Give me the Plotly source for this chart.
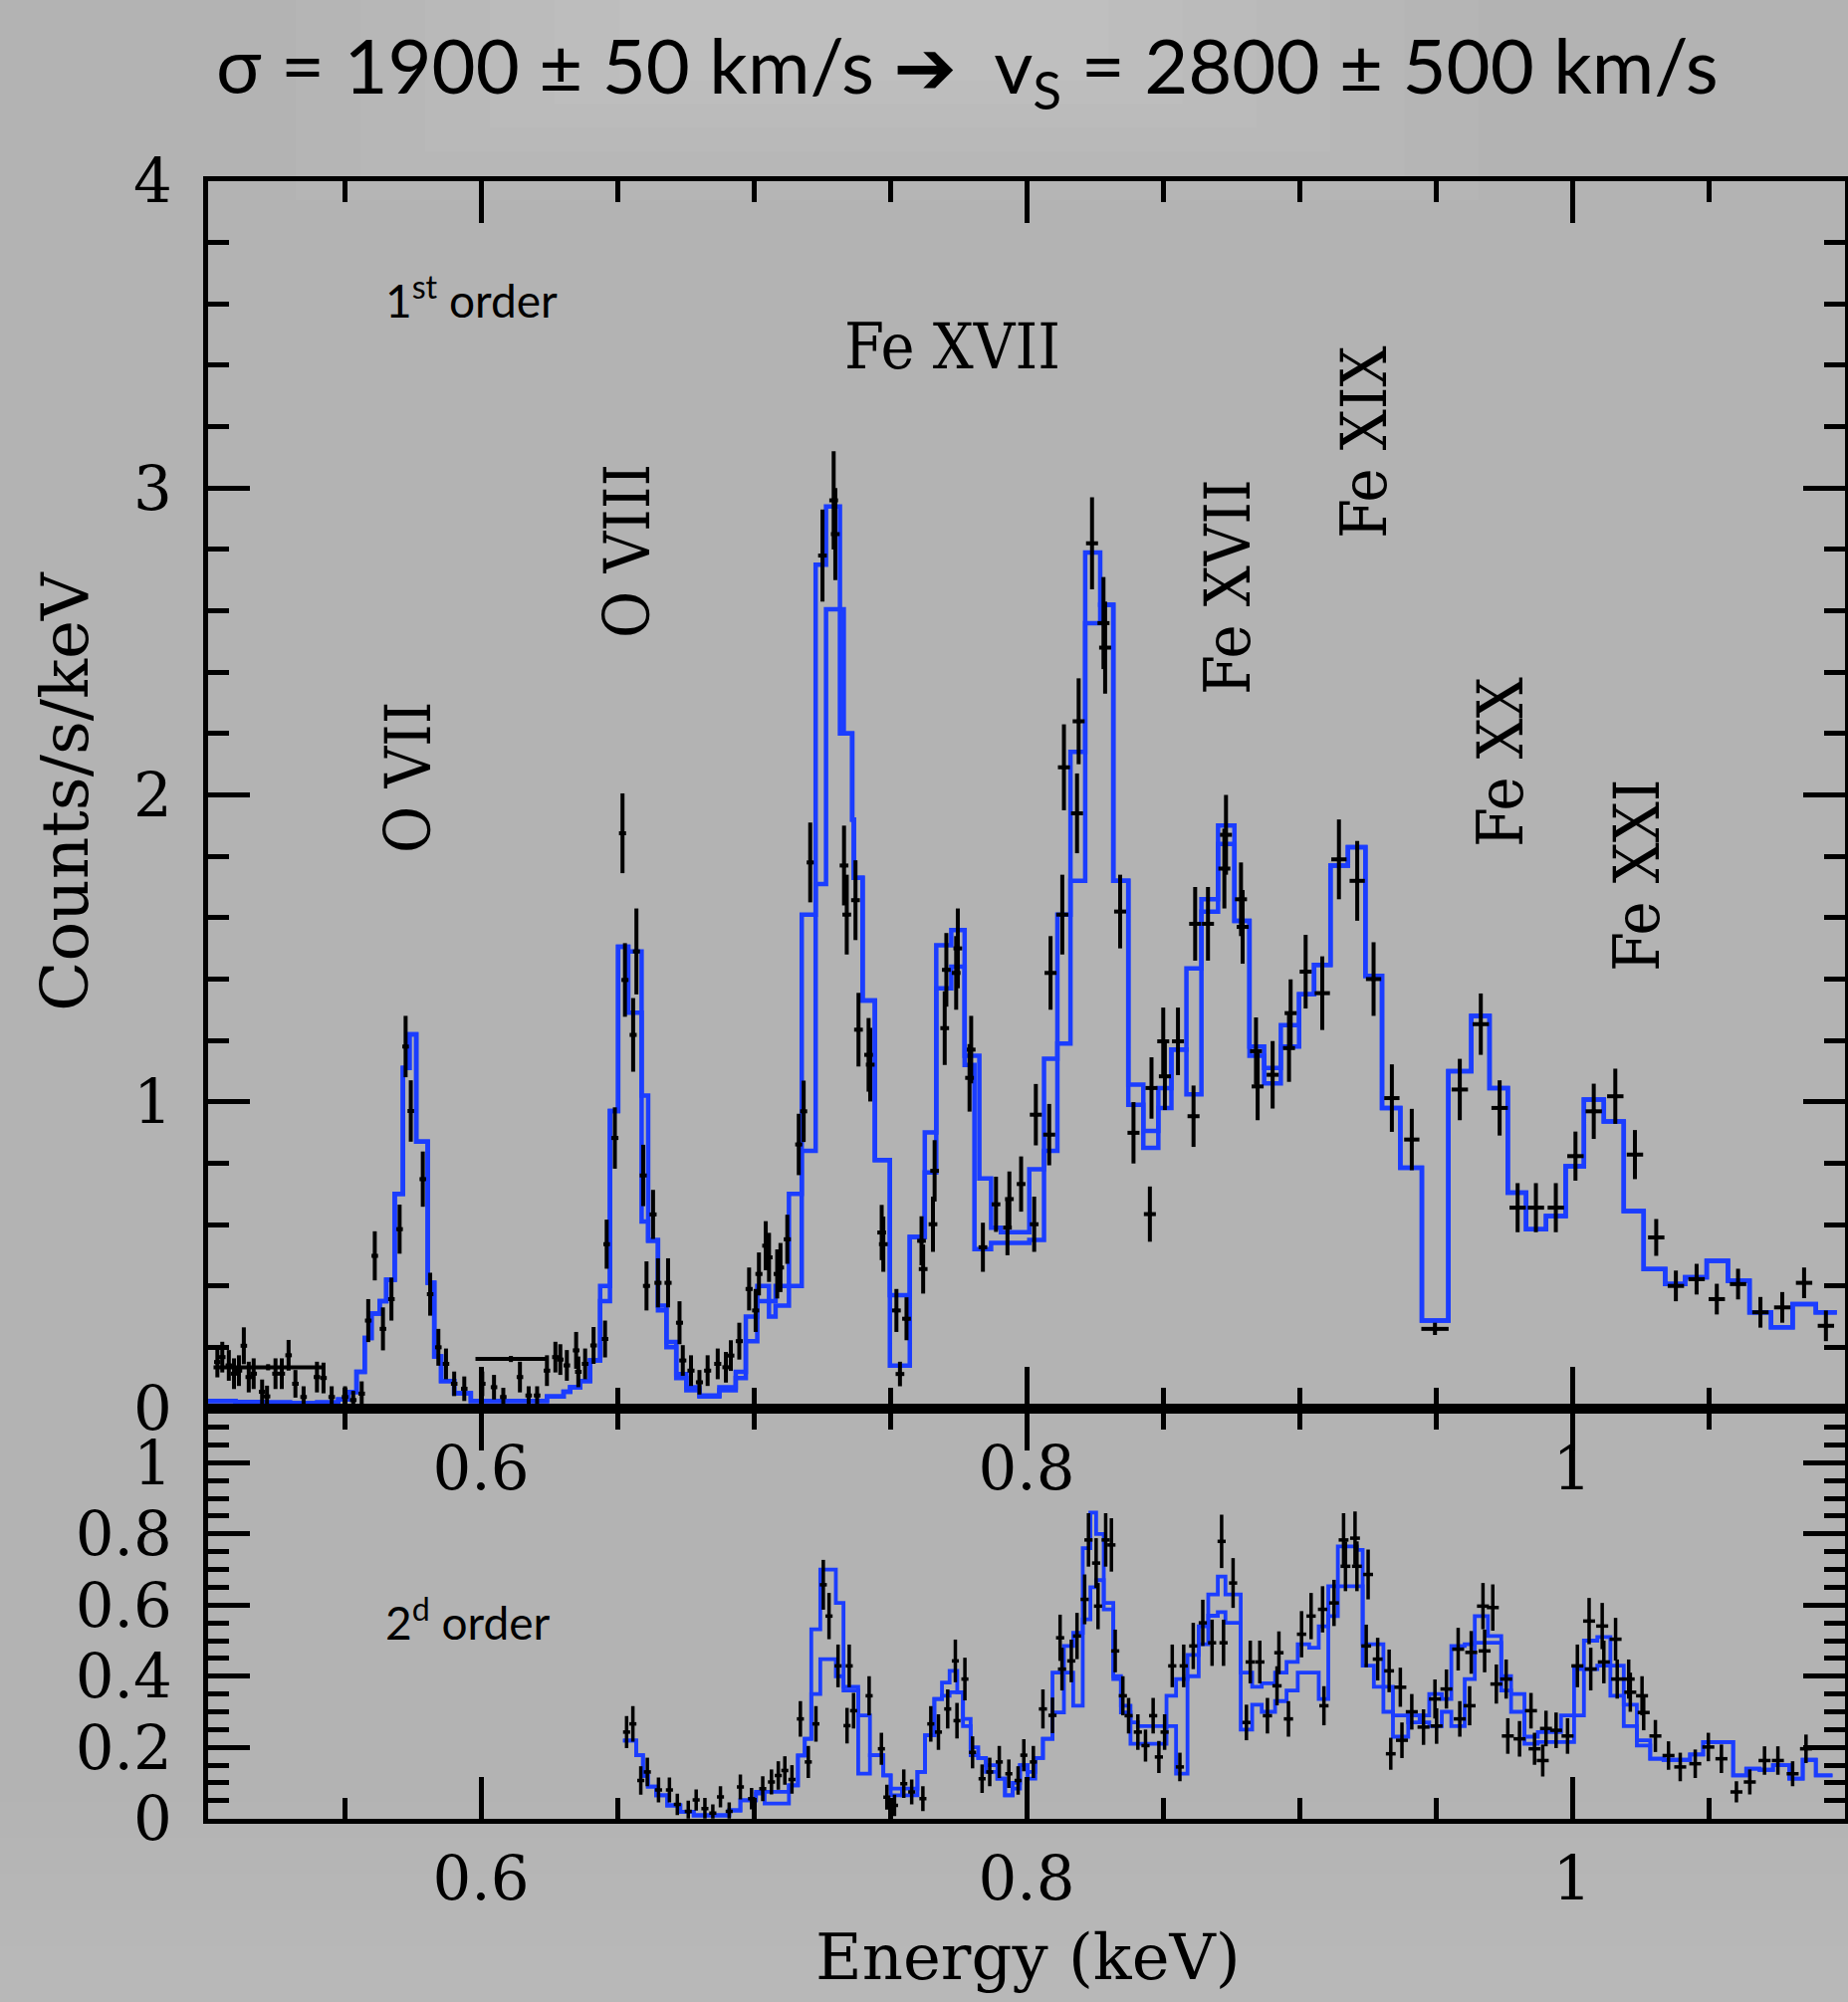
import plotly.graph_objects as go

# ---------------- 1st order (upper panel) : model step histograms ----------------
UP_EDGES = [0.5000, 0.5100, 0.5200, 0.5300, 0.5400, 0.5477, 0.5514, 0.5544, 0.5574, 0.5599,
            0.5629, 0.5653, 0.5684, 0.5714, 0.5738, 0.5763, 0.5805, 0.5829, 0.5854, 0.5902,
            0.5963, 0.6242, 0.6303, 0.6327, 0.6364, 0.6400, 0.6437, 0.6473, 0.6503, 0.6540,
            0.6589, 0.6613, 0.6649, 0.6680, 0.6716, 0.6753, 0.6801, 0.6874, 0.6934, 0.6971,
            0.7013, 0.7056, 0.7080, 0.7129, 0.7176, 0.7227, 0.7265, 0.7316, 0.7330, 0.7361,
            0.7367, 0.7399, 0.7444, 0.7499, 0.7572, 0.7627, 0.7669, 0.7724, 0.7773, 0.7809,
            0.7827, 0.7870, 0.7906, 0.8010, 0.8064, 0.8113, 0.8161, 0.8215, 0.8270, 0.8318,
            0.8373, 0.8428, 0.8483, 0.8531, 0.8586, 0.8641, 0.8702, 0.8762, 0.8817, 0.8871,
            0.8932, 0.8999, 0.9054, 0.9114, 0.9178, 0.9242, 0.9303, 0.9370, 0.9449, 0.9546,
            0.9630, 0.9697, 0.9764, 0.9831, 0.9904, 0.9976, 1.0043, 1.0116, 1.0189, 1.0262,
            1.0341, 1.0414, 1.0493, 1.0571, 1.0650, 1.0729, 1.0808, 1.0893, 1.0970]

UP_MODEL_A = [0.025, 0.022, 0.020, 0.018, 0.020, 0.030, 0.054, 0.120, 0.230, 0.310,
              0.350, 0.420, 0.700, 1.110, 1.220, 0.870, 0.410, 0.170, 0.090, 0.050,
              0.025, 0.040, 0.055, 0.070, 0.090, 0.157, 0.400, 0.970, 1.505, 1.490,
              1.020, 0.547, 0.336, 0.217, 0.113, 0.070, 0.043, 0.070, 0.120, 0.300,
              0.400, 0.350, 0.400, 0.700, 1.610, 2.750, 2.940, 2.200, 2.200, 1.920,
              1.730, 1.330, 0.810, 0.370, 0.560, 0.900, 1.510, 1.560, 1.150, 1.150,
              0.750, 0.590, 0.575, 0.780, 1.140, 1.610, 2.140, 2.790, 2.620, 1.720,
              1.056, 0.905, 1.045, 1.170, 1.435, 1.660, 1.900, 1.590, 1.180, 1.110,
              1.250, 1.350, 1.446, 1.770, 1.830, 1.410, 0.980, 0.785, 0.287, 1.100,
              1.280, 1.045, 0.704, 0.585, 0.628, 0.790, 1.007, 0.936, 0.644, 0.455,
              0.406, 0.428, 0.482, 0.417, 0.314, 0.265, 0.341, 0.314]

UP_MODEL_B = [0.025, 0.022, 0.020, 0.018, 0.020, 0.030, 0.054, 0.120, 0.230, 0.310,
              0.350, 0.420, 0.700, 1.110, 1.220, 0.870, 0.410, 0.170, 0.090, 0.050,
              0.025, 0.040, 0.055, 0.070, 0.090, 0.157, 0.350, 0.970, 1.505, 1.290,
              0.610, 0.550, 0.320, 0.200, 0.100, 0.060, 0.040, 0.060, 0.100, 0.220,
              0.350, 0.300, 0.336, 0.400, 0.840, 1.710, 2.605, 2.605, 2.200, 1.920,
              1.730, 1.330, 0.810, 0.140, 0.560, 0.770, 1.370, 1.440, 1.120, 0.520,
              0.520, 0.540, 0.540, 0.550, 0.840, 1.190, 1.720, 2.560, 2.620, 1.720,
              0.990, 0.850, 0.980, 1.170, 1.024, 1.620, 1.840, 1.590, 1.150, 1.060,
              1.180, 1.350, 1.446, 1.770, 1.830, 1.410, 0.980, 0.785, 0.287, 1.100,
              1.280, 1.045, 0.704, 0.585, 0.628, 0.790, 1.007, 0.936, 0.644, 0.455,
              0.406, 0.428, 0.482, 0.417, 0.314, 0.265, 0.341, 0.314]

# ---------------- 1st order data points ----------------
UP_E = [0.5034, 0.5052, 0.5076, 0.5095, 0.5113, 0.5131, 0.5149, 0.5167, 0.5198, 0.5216,
        0.5247, 0.5270, 0.5295, 0.5320, 0.5350, 0.5399, 0.5423, 0.5453, 0.5502, 0.5532,
        0.5563, 0.5587, 0.5611, 0.5641, 0.5672, 0.5702, 0.5724, 0.5743, 0.5787, 0.5814,
        0.5844, 0.5872, 0.5902, 0.5939, 0.6005, 0.6048, 0.6082, 0.6143, 0.6175, 0.6206,
        0.6242, 0.6273, 0.6291, 0.6315, 0.6349, 0.6357, 0.6382, 0.6413, 0.6455, 0.6461,
        0.6491, 0.6519, 0.6528, 0.6558, 0.6570, 0.6595, 0.6607, 0.6631, 0.6649, 0.6686,
        0.6728, 0.6740, 0.6770, 0.6801, 0.6831, 0.6868, 0.6898, 0.6916, 0.6947, 0.6983,
        0.7007, 0.7019, 0.7044, 0.7056, 0.7086, 0.7098, 0.7123, 0.7165, 0.7183, 0.7207,
        0.7252, 0.7293, 0.7299, 0.7331, 0.7341, 0.7373, 0.7384, 0.7421, 0.7427, 0.7469,
        0.7475, 0.7523, 0.7536, 0.7560, 0.7615, 0.7621, 0.7657, 0.7663, 0.7700, 0.7706,
        0.7742, 0.7748, 0.7791, 0.7797, 0.7840, 0.7888, 0.7930, 0.7937, 0.7980, 0.8028,
        0.8034, 0.8083, 0.8088, 0.8131, 0.8137, 0.8185, 0.8191, 0.8240, 0.8282, 0.8288,
        0.8343, 0.8392, 0.8452, 0.8458, 0.8501, 0.8507, 0.8555, 0.8612, 0.8618, 0.8665,
        0.8725, 0.8731, 0.8786, 0.8792, 0.8841, 0.8847, 0.8902, 0.8962, 0.8968, 0.9023,
        0.9084, 0.9145, 0.9212, 0.9272, 0.9339, 0.9412, 0.9497, 0.9588, 0.9665, 0.9734,
        0.9800, 0.9867, 0.9940, 1.0012, 1.0079, 1.0158, 1.0230, 1.0308, 1.0380, 1.0456,
        1.0530, 1.0608, 1.0690, 1.0770, 1.0850, 1.0930, 0.5220, 0.6110]

UP_Y = [0.152, 0.168, 0.141, 0.114, 0.124, 0.205, 0.103, 0.114, 0.055, 0.040,
        0.114, 0.114, 0.174, 0.081, 0.038, 0.103, 0.100, 0.038, 0.038, 0.028,
        0.049, 0.287, 0.498, 0.260, 0.357, 0.585, 1.180, 0.970, 0.748, 0.373,
        0.200, 0.146, 0.081, 0.065, 0.081, 0.070, 0.038, 0.103, 0.043, 0.043,
        0.124, 0.168, 0.160, 0.141, 0.190, 0.120, 0.146, 0.206, 0.227, 0.536,
        0.882, 1.875, 1.397, 1.218, 1.490, 0.760, 0.400, 0.633, 0.410, 0.410,
        0.280, 0.157, 0.124, 0.086, 0.124, 0.146, 0.135, 0.173, 0.220, 0.390,
        0.320, 0.439, 0.531, 0.493, 0.439, 0.460, 0.552, 0.861, 0.969, 1.780,
        2.780, 2.960, 2.850, 1.770, 1.610, 1.657, 1.235, 1.153, 1.121, 0.574,
        0.536, 0.320, 0.113, 0.293, 0.547, 0.455, 0.601, 0.775, 1.240, 1.430,
        1.420, 1.500, 1.078, 1.170, 0.526, 0.666, 0.590, 0.683, 0.732, 0.601,
        0.958, 0.893, 1.420, 1.610, 2.090, 1.940, 2.240, 2.820, 2.560, 2.480,
        1.620, 0.899, 0.634, 1.045, 1.197, 1.083, 1.197, 0.953, 1.580, 1.580,
        1.760, 1.870, 1.660, 1.570, 1.165, 1.050, 1.088, 1.175, 1.289, 1.424,
        1.354, 1.790, 1.720, 1.400, 1.012, 0.877, 0.260, 1.040, 1.253, 0.980,
        0.655, 0.655, 0.655, 0.823, 0.969, 1.018, 0.828, 0.558, 0.400, 0.422,
        0.357, 0.406, 0.314, 0.330, 0.410, 0.270, 0.135, 0.162]

UP_YERR = [0.05, 0.05, 0.05, 0.05, 0.05, 0.06, 0.05, 0.05, 0.04, 0.035,
           0.05, 0.05, 0.05, 0.045, 0.035, 0.05, 0.05, 0.035, 0.035, 0.03,
           0.04, 0.07, 0.08, 0.07, 0.07, 0.08, 0.10, 0.10, 0.09, 0.07,
           0.06, 0.05, 0.04, 0.04, 0.04, 0.04, 0.03, 0.05, 0.03, 0.03,
           0.05, 0.05, 0.05, 0.05, 0.06, 0.05, 0.05, 0.06, 0.06, 0.08,
           0.10, 0.13, 0.12, 0.12, 0.14, 0.10, 0.08, 0.08, 0.08, 0.08,
           0.07, 0.05, 0.05, 0.04, 0.05, 0.05, 0.05, 0.05, 0.06, 0.07,
           0.07, 0.07, 0.08, 0.08, 0.08, 0.08, 0.08, 0.10, 0.10, 0.13,
           0.15, 0.16, 0.15, 0.13, 0.13, 0.13, 0.12, 0.12, 0.12, 0.09,
           0.09, 0.07, 0.04, 0.07, 0.08, 0.08, 0.09, 0.10, 0.12, 0.12,
           0.12, 0.13, 0.11, 0.11, 0.08, 0.09, 0.09, 0.09, 0.09, 0.09,
           0.10, 0.10, 0.12, 0.13, 0.14, 0.13, 0.14, 0.15, 0.15, 0.15,
           0.12, 0.10, 0.09, 0.10, 0.11, 0.11, 0.11, 0.10, 0.12, 0.12,
           0.13, 0.13, 0.12, 0.12, 0.11, 0.11, 0.11, 0.11, 0.11, 0.12,
           0.12, 0.13, 0.13, 0.12, 0.11, 0.10, 0.02, 0.10, 0.10, 0.09,
           0.08, 0.08, 0.08, 0.08, 0.09, 0.09, 0.08, 0.06, 0.05, 0.05,
           0.05, 0.05, 0.05, 0.05, 0.05, 0.05, 0.01, 0.01]

UP_XERR = [0.0012, 0.0012, 0.0012, 0.0012, 0.0012, 0.0012, 0.0012, 0.0012, 0.0012, 0.0012,
           0.0012, 0.0012, 0.0012, 0.0012, 0.0012, 0.0012, 0.0012, 0.0012, 0.0012, 0.0012,
           0.0012, 0.0012, 0.0012, 0.0012, 0.0012, 0.0012, 0.0012, 0.0012, 0.0012, 0.0012,
           0.0012, 0.0012, 0.0012, 0.0012, 0.0012, 0.0012, 0.0012, 0.0012, 0.0012, 0.0012,
           0.0012, 0.0012, 0.0012, 0.0012, 0.0012, 0.0012, 0.0012, 0.0012, 0.0012, 0.0012,
           0.0013, 0.0013, 0.0013, 0.0013, 0.0013, 0.0013, 0.0013, 0.0013, 0.0013, 0.0013,
           0.0013, 0.0013, 0.0013, 0.0013, 0.0013, 0.0013, 0.0013, 0.0013, 0.0013, 0.0013,
           0.0013, 0.0013, 0.0013, 0.0013, 0.0013, 0.0013, 0.0013, 0.0013, 0.0013, 0.0013,
           0.0016, 0.0016, 0.0016, 0.0016, 0.0016, 0.0016, 0.0016, 0.0016, 0.0016, 0.0016,
           0.0016, 0.0016, 0.0016, 0.0016, 0.0016, 0.0016, 0.0016, 0.0016, 0.0016, 0.0016,
           0.0016, 0.0016, 0.0016, 0.0016, 0.0016, 0.0016, 0.0016, 0.0016, 0.0016, 0.0016,
           0.0022, 0.0022, 0.0022, 0.0022, 0.0022, 0.0022, 0.0022, 0.0022, 0.0022, 0.0022,
           0.0022, 0.0022, 0.0022, 0.0022, 0.0022, 0.0022, 0.0022, 0.0022, 0.0022, 0.0022,
           0.0022, 0.0022, 0.0022, 0.0022, 0.0022, 0.0022, 0.0022, 0.0022, 0.0022, 0.0022,
           0.0028, 0.0028, 0.0028, 0.0028, 0.0028, 0.0028, 0.0050, 0.0030, 0.0030, 0.0030,
           0.0030, 0.0030, 0.0030, 0.0030, 0.0030, 0.0030, 0.0030, 0.0030, 0.0030, 0.0030,
           0.0030, 0.0030, 0.0030, 0.0030, 0.0030, 0.0030, 0.0200, 0.0130]

# ---------------- 2nd order (lower panel) : model step histograms ----------------
LO_EDGES = [0.6521, 0.6569, 0.6594, 0.6612, 0.6642, 0.6683, 0.6731, 0.6780, 0.6910, 0.6951,
            0.7008, 0.7040, 0.7129, 0.7162, 0.7187, 0.7211, 0.7244, 0.7301, 0.7329, 0.7383,
            0.7426, 0.7475, 0.7502, 0.7544, 0.7600, 0.7628, 0.7662, 0.7690, 0.7718, 0.7746,
            0.7767, 0.7795, 0.7823, 0.7851, 0.7893, 0.7921, 0.7949, 0.7976, 0.8004, 0.8032,
            0.8060, 0.8095, 0.8137, 0.8171, 0.8206, 0.8234, 0.8255, 0.8283, 0.8318, 0.8346,
            0.8381, 0.8408, 0.8464, 0.8513, 0.8548, 0.8590, 0.8631, 0.8666, 0.8701, 0.8729,
            0.8785, 0.8827, 0.8862, 0.8911, 0.8953, 0.8994, 0.9036, 0.9071, 0.9106, 0.9141,
            0.9176, 0.9211, 0.9232, 0.9273, 0.9308, 0.9343, 0.9399, 0.9441, 0.9476, 0.9522,
            0.9557, 0.9606, 0.9643, 0.9691, 0.9740, 0.9776, 0.9825, 0.9874, 0.9959, 1.0007,
            1.0043, 1.0092, 1.0140, 1.0189, 1.0237, 1.0286, 1.0335, 1.0432, 1.0480, 1.0590,
            1.0638, 1.0687, 1.0736, 1.0796, 1.0845, 1.0893, 1.0954]

LO_MODEL_A = [0.219, 0.178, 0.120, 0.090, 0.065, 0.037, 0.019, 0.009, 0.023, 0.051,
              0.075, 0.075, 0.093, 0.177, 0.224, 0.532, 0.700, 0.606, 0.360, 0.290,
              0.178, 0.121, 0.065, 0.084, 0.131, 0.234, 0.336, 0.382, 0.415, 0.355,
              0.280, 0.200, 0.170, 0.150, 0.112, 0.065, 0.084, 0.150, 0.131, 0.170,
              0.224, 0.410, 0.485, 0.522, 0.760, 0.860, 0.800, 0.606, 0.400, 0.317,
              0.270, 0.260, 0.260, 0.345, 0.392, 0.460, 0.540, 0.630, 0.680, 0.630,
              0.410, 0.370, 0.380, 0.410, 0.440, 0.490, 0.480, 0.540, 0.653, 0.765,
              0.765, 0.755, 0.490, 0.490, 0.370, 0.290, 0.270, 0.290, 0.350, 0.336,
              0.485, 0.490, 0.569, 0.513, 0.400, 0.350, 0.230, 0.243, 0.290, 0.420,
              0.500, 0.510, 0.430, 0.320, 0.205, 0.168, 0.165, 0.180, 0.215, 0.121,
              0.140, 0.137, 0.150, 0.112, 0.165, 0.121]

LO_MODEL_B = [0.219, 0.178, 0.120, 0.090, 0.065, 0.037, 0.019, 0.009, 0.023, 0.051,
              0.070, 0.042, 0.093, 0.177, 0.224, 0.350, 0.448, 0.400, 0.370, 0.126,
              0.178, 0.121, 0.084, 0.065, 0.131, 0.234, 0.336, 0.345, 0.355, 0.355,
              0.260, 0.178, 0.170, 0.131, 0.112, 0.065, 0.100, 0.150, 0.112, 0.170,
              0.224, 0.298, 0.410, 0.317, 0.560, 0.650, 0.670, 0.588, 0.392, 0.298,
              0.210, 0.210, 0.210, 0.260, 0.126, 0.400, 0.490, 0.570, 0.580, 0.550,
              0.250, 0.320, 0.300, 0.330, 0.360, 0.410, 0.410, 0.336, 0.569, 0.653,
              0.653, 0.653, 0.430, 0.370, 0.300, 0.230, 0.290, 0.270, 0.260, 0.300,
              0.260, 0.392, 0.494, 0.494, 0.360, 0.300, 0.210, 0.215, 0.215, 0.290,
              0.420, 0.430, 0.345, 0.260, 0.220, 0.168, 0.165, 0.180, 0.215, 0.121,
              0.140, 0.137, 0.150, 0.112, 0.165, 0.121]

# ---------------- 2nd order data points ----------------
LO_E = [0.6534, 0.6557, 0.6586, 0.6610, 0.6651, 0.6691, 0.6720, 0.6760, 0.6789, 0.6821,
        0.6850, 0.6878, 0.6910, 0.6951, 0.6992, 0.7033, 0.7065, 0.7090, 0.7114, 0.7140,
        0.7171, 0.7200, 0.7228, 0.7255, 0.7276, 0.7309, 0.7342, 0.7350, 0.7366, 0.7423,
        0.7468, 0.7488, 0.7516, 0.7550, 0.7579, 0.7620, 0.7649, 0.7677, 0.7711, 0.7739,
        0.7745, 0.7774, 0.7802, 0.7837, 0.7865, 0.7900, 0.7935, 0.7969, 0.7990, 0.8025,
        0.8060, 0.8095, 0.8123, 0.8130, 0.8164, 0.8185, 0.8213, 0.8227, 0.8255, 0.8262,
        0.8290, 0.8311, 0.8325, 0.8353, 0.8374, 0.8408, 0.8436, 0.8464, 0.8485, 0.8506,
        0.8534, 0.8562, 0.8576, 0.8611, 0.8646, 0.8680, 0.8715, 0.8722, 0.8757, 0.8806,
        0.8820, 0.8855, 0.8883, 0.8918, 0.8925, 0.8960, 0.9008, 0.9043, 0.9085, 0.9090,
        0.9127, 0.9162, 0.9169, 0.9204, 0.9211, 0.9252, 0.9245, 0.9287, 0.9329, 0.9335,
        0.9370, 0.9376, 0.9412, 0.9455, 0.9497, 0.9503, 0.9539, 0.9582, 0.9588, 0.9630,
        0.9624, 0.9673, 0.9709, 0.9679, 0.9722, 0.9758, 0.9764, 0.9807, 0.9849, 0.9862,
        0.9892, 0.9904, 0.9941, 0.9983, 1.0019, 1.0062, 1.0068, 1.0110, 1.0116, 1.0159,
        1.0165, 1.0207, 1.0213, 1.0256, 1.0262, 1.0305, 1.0353, 1.0396, 1.0451, 1.0499,
        1.0547, 1.0602, 1.0651, 1.0705, 1.0754, 1.0808, 1.0857]

LO_Y = [0.243, 0.266, 0.107, 0.131, 0.080, 0.080, 0.040, 0.020, 0.052, 0.028,
        0.015, 0.061, 0.020, 0.089, 0.056, 0.084, 0.103, 0.121, 0.135, 0.110,
        0.280, 0.159, 0.266, 0.657, 0.569, 0.429, 0.261, 0.429, 0.303, 0.345,
        0.196, 0.060, 0.037, 0.098, 0.075, 0.056, 0.266, 0.243, 0.308, 0.443,
        0.275, 0.392, 0.186, 0.112, 0.131, 0.159, 0.126, 0.107, 0.178, 0.159,
        0.308, 0.290, 0.508, 0.420, 0.443, 0.513, 0.616, 0.783, 0.718, 0.597,
        0.783, 0.769, 0.471, 0.345, 0.289, 0.243, 0.205, 0.289, 0.173, 0.243,
        0.429, 0.145, 0.429, 0.485, 0.550, 0.494, 0.779, 0.494, 0.662, 0.270,
        0.440, 0.440, 0.289, 0.373, 0.466, 0.280, 0.518, 0.569, 0.588, 0.317,
        0.606, 0.783, 0.709, 0.788, 0.709, 0.686, 0.485, 0.448, 0.415, 0.182,
        0.369, 0.220, 0.300, 0.257, 0.336, 0.260, 0.364, 0.476, 0.280, 0.467,
        0.317, 0.597, 0.593, 0.471, 0.378, 0.392, 0.232, 0.224, 0.303, 0.196,
        0.163, 0.253, 0.248, 0.232, 0.429, 0.555, 0.420, 0.541, 0.440, 0.504,
        0.392, 0.392, 0.355, 0.345, 0.298, 0.232, 0.177, 0.145, 0.154, 0.201,
        0.168, 0.075, 0.103, 0.163, 0.163, 0.126, 0.196]

LO_YERR = [0.045, 0.05, 0.04, 0.04, 0.035, 0.035, 0.03, 0.03, 0.03, 0.03,
           0.025, 0.03, 0.025, 0.035, 0.03, 0.035, 0.035, 0.04, 0.04, 0.04,
           0.05, 0.045, 0.05, 0.07, 0.065, 0.06, 0.05, 0.06, 0.05, 0.055,
           0.045, 0.035, 0.03, 0.04, 0.035, 0.035, 0.05, 0.05, 0.055, 0.06,
           0.05, 0.06, 0.045, 0.04, 0.04, 0.045, 0.04, 0.04, 0.045, 0.045,
           0.055, 0.05, 0.065, 0.06, 0.06, 0.065, 0.07, 0.075, 0.07, 0.065,
           0.075, 0.075, 0.06, 0.055, 0.05, 0.05, 0.045, 0.05, 0.045, 0.05,
           0.06, 0.04, 0.06, 0.065, 0.065, 0.065, 0.075, 0.065, 0.07, 0.05,
           0.06, 0.06, 0.05, 0.055, 0.06, 0.05, 0.065, 0.065, 0.065, 0.055,
           0.065, 0.075, 0.07, 0.075, 0.07, 0.07, 0.06, 0.06, 0.06, 0.045,
           0.055, 0.05, 0.05, 0.05, 0.055, 0.05, 0.055, 0.06, 0.05, 0.06,
           0.055, 0.065, 0.065, 0.06, 0.055, 0.055, 0.05, 0.05, 0.05, 0.045,
           0.045, 0.05, 0.05, 0.05, 0.06, 0.065, 0.06, 0.065, 0.06, 0.06,
           0.055, 0.055, 0.055, 0.055, 0.05, 0.045, 0.04, 0.04, 0.04, 0.04,
           0.04, 0.03, 0.035, 0.04, 0.04, 0.035, 0.04]

LO_XERR = [0.0013, 0.0013, 0.0013, 0.0013, 0.0013, 0.0013, 0.0013, 0.0013, 0.0013, 0.0013,
           0.0013, 0.0013, 0.0013, 0.0013, 0.0013, 0.0013, 0.0013, 0.0013, 0.0013, 0.0013,
           0.0013, 0.0013, 0.0013, 0.0013, 0.0013, 0.0013, 0.0013, 0.0013, 0.0013, 0.0013,
           0.0013, 0.0013, 0.0013, 0.0013, 0.0013, 0.0013, 0.0013, 0.0013, 0.0013, 0.0013,
           0.0013, 0.0013, 0.0013, 0.0013, 0.0013, 0.0013, 0.0013, 0.0013, 0.0013, 0.0013,
           0.0015, 0.0015, 0.0015, 0.0015, 0.0015, 0.0015, 0.0015, 0.0015, 0.0015, 0.0015,
           0.0015, 0.0015, 0.0015, 0.0015, 0.0015, 0.0015, 0.0015, 0.0015, 0.0015, 0.0015,
           0.0015, 0.0015, 0.0015, 0.0015, 0.0015, 0.0015, 0.0015, 0.0015, 0.0015, 0.0015,
           0.0017, 0.0017, 0.0017, 0.0017, 0.0017, 0.0017, 0.0017, 0.0017, 0.0017, 0.0017,
           0.0018, 0.0018, 0.0018, 0.0018, 0.0018, 0.0018, 0.0018, 0.0018, 0.0018, 0.0018,
           0.0022, 0.0022, 0.0022, 0.0022, 0.0022, 0.0022, 0.0022, 0.0022, 0.0022, 0.0022,
           0.0022, 0.0022, 0.0022, 0.0022, 0.0022, 0.0022, 0.0022, 0.0022, 0.0022, 0.0022,
           0.0022, 0.0022, 0.0022, 0.0022, 0.0022, 0.0022, 0.0022, 0.0022, 0.0022, 0.0022,
           0.0022, 0.0022, 0.0022, 0.0022, 0.0022, 0.0022, 0.0022, 0.0022, 0.0022, 0.0022,
           0.0022, 0.0022, 0.0022, 0.0022, 0.0022, 0.0022, 0.0022]

# axis ranges
X_RANGE = [0.5, 1.1]
UP_Y_RANGE = [0.0, 4.0]
LO_Y_RANGE = [0.0, 1.152]

ION_LABELS = ["O VII", "O VIII", "Fe XVII", "Fe XVII", "Fe XIX", "Fe XX", "Fe XXI"]
TITLE_TEXT = ("σ = 1900 ± 50 km/s "
              "<span style='font-family:DejaVu Sans'><b>➔</b></span>  "
              "v<sub>S</sub> = 2800 ± 500 km/s")

# ---------------------------------------------------------------------------
W, H = 1856, 2011
X0, X1 = 209 / W, 1853 / W
UP_D = [1 - 1415 / H, 1 - 182 / H]
LO_D = [1 - 1826.7 / H, 1 - 1415 / H]
BLUE = "#1b3dff"
SERIF = "DejaVu Serif"


def step_xy(edges, vals):
    return list(edges), list(vals) + [vals[-1]]


fig = go.Figure()

for vals in (UP_MODEL_B, UP_MODEL_A):
    sx, sy = step_xy(UP_EDGES, vals)
    fig.add_trace(go.Scatter(x=sx, y=sy, mode="lines", xaxis="x", yaxis="y",
                             line=dict(color=BLUE, width=4.5, shape="hv"),
                             hoverinfo="skip"))
for vals in (LO_MODEL_B, LO_MODEL_A):
    sx, sy = step_xy(LO_EDGES, vals)
    fig.add_trace(go.Scatter(x=sx, y=sy, mode="lines", xaxis="x2", yaxis="y2",
                             line=dict(color=BLUE, width=3.8, shape="hv"),
                             hoverinfo="skip"))

fig.add_trace(go.Scatter(
    x=UP_E, y=UP_Y, mode="markers", xaxis="x", yaxis="y",
    marker=dict(color="black", size=5),
    error_y=dict(type="data", array=UP_YERR, color="black", thickness=4, width=0),
    error_x=dict(type="data", array=UP_XERR, color="black", thickness=4, width=0)))
fig.add_trace(go.Scatter(
    x=LO_E, y=LO_Y, mode="markers", xaxis="x2", yaxis="y2",
    marker=dict(color="black", size=4),
    error_y=dict(type="data", array=LO_YERR, color="black", thickness=3.5, width=0),
    error_x=dict(type="data", array=LO_XERR, color="black", thickness=3.5, width=0)))

common_axis = dict(showline=True, linewidth=5, linecolor="black", mirror="allticks",
                   ticks="inside", tickcolor="black", tickwidth=4.5, ticklen=42,
                   showgrid=False, zeroline=False, automargin=False,
                   tickfont=dict(family=SERIF, size=61, color="black"))

xa = dict(common_axis, range=X_RANGE, tickmode="linear", tick0=0, dtick=0.2,
          ticklabelstandoff=3,
          minor=dict(tickmode="linear", tick0=0.5, dtick=0.05, ticks="inside",
                     ticklen=21, tickwidth=4.5, tickcolor="black", showgrid=False))

fig.update_layout(
    width=W, height=H, margin=dict(l=0, r=0, t=0, b=0, pad=0, autoexpand=False),
    paper_bgcolor="#b3b3b3", plot_bgcolor="rgba(0,0,0,0)",
    showlegend=False,
    xaxis=dict(xa, domain=[X0, X1], anchor="y"),
    xaxis2=dict(xa, domain=[X0, X1], anchor="y2"),
    yaxis=dict(common_axis, domain=UP_D, anchor="x", range=UP_Y_RANGE,
               tickmode="linear", tick0=0, dtick=1, ticklabelstandoff=19,
               minor=dict(tickmode="linear", tick0=0, dtick=0.2, ticks="inside",
                          ticklen=21, tickwidth=4.5, tickcolor="black", showgrid=False)),
    yaxis2=dict(common_axis, domain=LO_D, anchor="x2", range=LO_Y_RANGE,
                tickmode="linear", tick0=0, dtick=0.2, ticklabelstandoff=19,
                minor=dict(tickmode="linear", tick0=0, dtick=0.05, ticks="inside",
                           ticklen=21, tickwidth=4.5, tickcolor="black", showgrid=False)),
)

# soft lighting like the photographed slide: nested faint rectangles
shapes = []
for i in range(6):
    shapes.append(dict(type="rect", xref="paper", yref="paper",
                       x0=0.16 + 0.035 * i, x1=0.80 - 0.04 * i,
                       y0=0.90 + 0.012 * i, y1=1.0,
                       fillcolor="rgba(255,255,255,0.035)", line_width=0, layer="below"))
for i in range(5):
    shapes.append(dict(type="rect", xref="paper", yref="paper", x0=0.0, x1=1.0,
                       y0=0.0, y1=0.10 - 0.018 * i,
                       fillcolor="rgba(255,255,255,0.025)", line_width=0, layer="below"))
fig.update_layout(shapes=shapes)

ann = []
ann.append(dict(text=TITLE_TEXT, x=971 / W, y=1 - 70 / H, xref="paper", yref="paper",
                showarrow=False, xanchor="center", yanchor="middle",
                font=dict(family="Lato", size=76, color="black")))
ann.append(dict(text="1<sup>st</sup> order", x=385 / W, y=1 - 298 / H, xref="paper",
                yref="paper", showarrow=False, xanchor="left", yanchor="middle",
                font=dict(family="Lato", size=46, color="black")))
ann.append(dict(text="2<sup>d</sup> order", x=385 / W, y=1 - 1626 / H, xref="paper",
                yref="paper", showarrow=False, xanchor="left", yanchor="middle",
                font=dict(family="Lato", size=46, color="black")))
ann.append(dict(text="Counts/s/keV", x=65 / W, y=1 - 795 / H, xref="paper", yref="paper",
                showarrow=False, textangle=-90, xanchor="center", yanchor="middle",
                font=dict(family=SERIF, size=66, color="black")))
ann.append(dict(text="Energy (keV)", x=1032 / W, y=1 - 1966 / H, xref="paper",
                yref="paper", showarrow=False, xanchor="center", yanchor="middle",
                font=dict(family=SERIF, size=64, color="black")))

ION_POS = [(410, 781, -90), (630, 554, -90), (956, 348, 0), (1233, 590, -90),
           (1370, 444, -90), (1507, 766, -90), (1644, 879, -90)]
for label, (px, py, ang) in zip(ION_LABELS, ION_POS):
    ann.append(dict(text=label, x=px / W, y=1 - py / H, xref="paper", yref="paper",
                    showarrow=False, textangle=ang, xanchor="center", yanchor="middle",
                    font=dict(family="DejaVu Serif Condensed, DejaVu Serif", size=64,
                              color="black")))
fig.update_layout(annotations=ann)

fig.write_html("out.html", config={"displayModeBar": False},
               post_script="document.body.style.margin='0';")
